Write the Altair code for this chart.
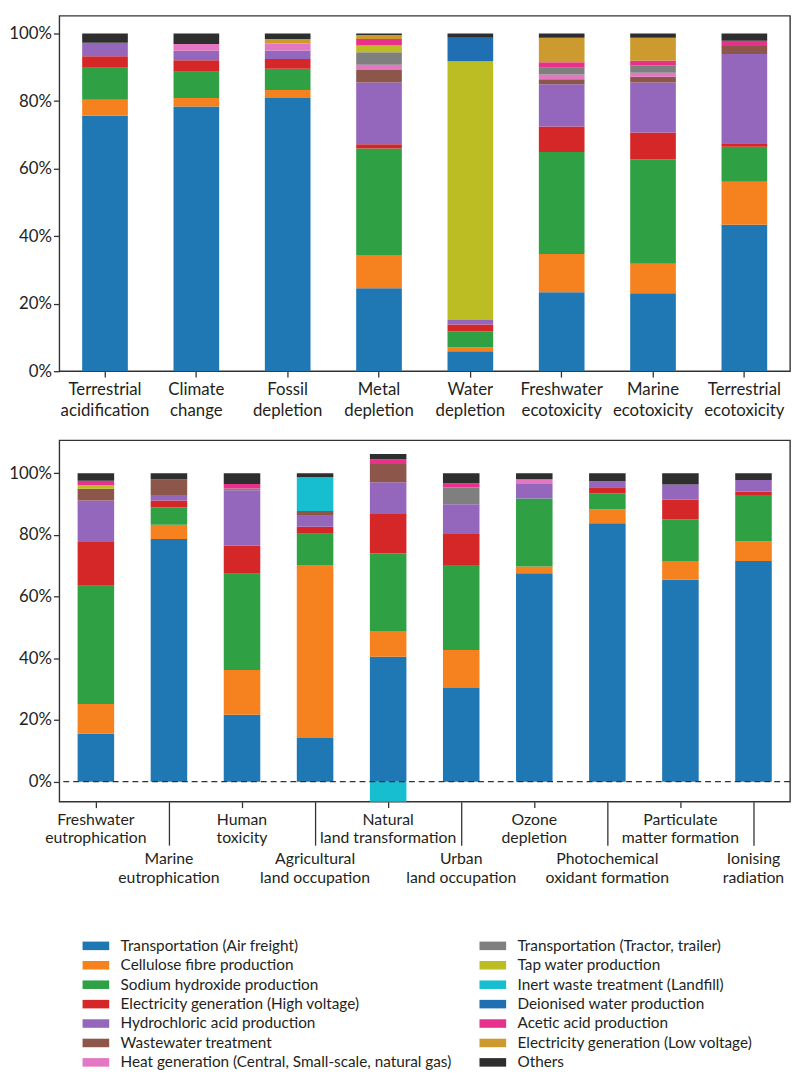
import altair as alt
import pandas as pd

FONT = "Lato"
TXT = "#231f20"

CONTRIBUTORS = [
    "Transportation (Air freight)",
    "Cellulose fibre production",
    "Sodium hydroxide production",
    "Electricity generation (High voltage)",
    "Hydrochloric acid production",
    "Wastewater treatment",
    "Heat generation (Central, Small-scale, natural gas)",
    "Transportation (Tractor, trailer)",
    "Tap water production",
    "Inert waste treatment (Landfill)",
    "Deionised water production",
    "Acetic acid production",
    "Electricity generation (Low voltage)",
    "Others",
]
COLORS = ["#1f77b4", "#f5811f", "#2fa144", "#d62728", "#9467bd", "#8c564b",
          "#e377c2", "#7f7f7f", "#bcbd22", "#17becf", "#1f6fb2", "#e8318a",
          "#cc9a2f", "#2e2e2e"]

TOP_CATS = ["Terrestrial|acidification", "Climate|change", "Fossil|depletion",
            "Metal|depletion", "Water|depletion", "Freshwater|ecotoxicity",
            "Marine|ecotoxicity", "Terrestrial|ecotoxicity"]
BOT_CATS = ["Freshwater|eutrophication", "Marine|eutrophication", "Human|toxicity",
            "Agricultural|land occupation", "Natural|land transformation",
            "Urban|land occupation", "Ozone|depletion", "Photochemical|oxidant formation",
            "Particulate|matter formation", "Ionising|radiation"]

# top panel values (%), one list per contributor
TOP_AIR = [75.7, 78.4, 80.9, 24.6, 5.9, 23.4, 23.1, 43.4]
TOP_CELL = [4.7, 2.5, 2.4, 9.8, 1.1, 11.3, 8.7, 12.7]
TOP_NAOH = [9.5, 7.8, 6.3, 31.6, 4.8, 30.2, 31.0, 10.4]
TOP_EHV = [3.4, 3.4, 2.9, 1.2, 2.0, 7.6, 7.9, 1.0]
TOP_HCL = [4.0, 2.8, 2.5, 18.3, 1.4, 12.5, 14.8, 26.5]
TOP_WW = [0, 0, 0, 3.7, 0, 1.5, 1.7, 2.3]
TOP_HEAT = [0, 2.0, 2.1, 1.6, 0, 1.4, 1.2, 0]
TOP_TRAC = [0, 0, 0, 3.7, 0, 2.0, 2.2, 0]
TOP_TAP = [0, 0, 0, 2.0, 76.6, 0, 0, 0]
TOP_INERT = [0, 0, 0, 0, 0, 0, 0, 0]
TOP_DEION = [0, 0, 0, 0, 7.0, 0, 0, 0]
TOP_ACET = [0, 0, 0, 1.9, 0, 1.6, 1.4, 1.6]
TOP_ELV = [0, 0, 1.3, 1.2, 0, 7.3, 6.8, 0]
TOP_OTH = [2.7, 3.1, 1.6, 0.4, 1.2, 1.2, 1.2, 2.1]

# bottom panel values (%)
BOT_AIR = [15.5, 78.7, 21.7, 14.2, 40.5, 30.4, 67.6, 83.8, 65.5, 71.6]
BOT_CELL = [9.7, 4.6, 14.5, 56.1, 8.4, 12.3, 2.2, 4.5, 6.1, 6.3]
BOT_NAOH = [38.3, 5.6, 31.2, 10.1, 25.2, 27.6, 22.0, 5.2, 13.5, 15.1]
BOT_EHV = [14.2, 2.3, 9.1, 2.3, 12.7, 10.0, 0, 2.0, 6.3, 1.1]
BOT_HCL = [13.5, 1.8, 18.0, 3.8, 10.3, 9.7, 5.0, 1.9, 5.0, 3.7]
BOT_WW = [3.8, 5.1, 0, 1.3, 5.9, 0, 0, 0, 0, 0]
BOT_HEAT = [0, 0, 0, 0, 0, 0, 1.3, 0, 0, 0]
BOT_TRAC = [0, 0, 0.6, 0, 0, 5.4, 0, 0, 0, 0]
BOT_TAP = [1.2, 0, 0, 0, 0, 0, 0, 0, 0, 0]
BOT_INERT = [0, 0, 0, 10.9, -6.5, 0, 0, 0, 0, 0]
BOT_DEION = [0, 0, 0, 0, 0, 0, 0, 0, 0, 0]
BOT_ACET = [1.4, 0, 1.4, 0, 1.6, 1.4, 0, 0, 0, 0]
BOT_ELV = [0, 0, 0, 0, 0, 0, 0, 0, 0, 0]
BOT_OTH = [2.4, 1.9, 3.5, 1.3, 1.7, 3.2, 1.9, 2.6, 3.6, 2.2]

TOP_SERIES = [TOP_AIR, TOP_CELL, TOP_NAOH, TOP_EHV, TOP_HCL, TOP_WW, TOP_HEAT,
              TOP_TRAC, TOP_TAP, TOP_INERT, TOP_DEION, TOP_ACET, TOP_ELV, TOP_OTH]
BOT_SERIES = [BOT_AIR, BOT_CELL, BOT_NAOH, BOT_EHV, BOT_HCL, BOT_WW, BOT_HEAT,
              BOT_TRAC, BOT_TAP, BOT_INERT, BOT_DEION, BOT_ACET, BOT_ELV, BOT_OTH]

Y_TICKS = [0, 20, 40, 60, 80, 100]
LOWER_LABELS = [c for i, c in enumerate(BOT_CATS) if i % 2 == 1]


def long_df(cats, series):
    rows = []
    for k, (name, vals) in enumerate(zip(CONTRIBUTORS, series)):
        for cat, v in zip(cats, vals):
            if v != 0:
                rows.append({"cat": cat, "src": name, "value": v, "ord": k})
    return pd.DataFrame(rows)


color_scale = alt.Scale(domain=CONTRIBUTORS, range=COLORS)


def bars(df, cats, ydom, width, height, xaxis):
    base = alt.Chart(df).mark_bar().encode(
        x=alt.X("cat:N", sort=cats, axis=xaxis,
                scale=alt.Scale(paddingInner=0.5, paddingOuter=0.25)),
        y=alt.Y("value:Q", stack="zero",
                scale=alt.Scale(domain=ydom, nice=False, zero=False),
                axis=alt.Axis(values=Y_TICKS, labelExpr="datum.value + '%'",
                              title=None, grid=False, domain=False,
                              tickSize=6, tickColor="#333", tickWidth=1.3,
                              labelFont=FONT, labelFontSize=17, labelColor=TXT,
                              labelPadding=2)),
        color=alt.Color("src:N", scale=color_scale, legend=None),
        order=alt.Order("ord:Q", sort="ascending"),
    ).properties(width=width, height=height)
    return base


top_axis = alt.Axis(title=None, labelAngle=0, domain=False, tickSize=6,
                    tickColor="#333", tickWidth=1.3,
                    labelExpr="split(datum.label, '|')",
                    labelFont=FONT, labelFontSize=17, labelColor=TXT,
                    labelLineHeight=21, labelPadding=5, labelBaseline="top")

cond_test = "indexof(" + str(LOWER_LABELS).replace('"', "'") + ", datum.value) >= 0"
bot_axis = alt.Axis(title=None, labelAngle=0, domain=False,
                    tickSize={"condition": {"test": cond_test, "value": 44}, "value": 6},
                    labelPadding={"condition": {"test": cond_test, "value": 6}, "value": 4},
                    tickColor="#333", tickWidth=1.3,
                    labelExpr="split(datum.label, '|')",
                    labelFont=FONT, labelFontSize=16, labelColor=TXT,
                    labelLineHeight=18.5, labelBaseline="top")

top_df = long_df(TOP_CATS, TOP_SERIES)
bot_df = long_df(BOT_CATS, BOT_SERIES)

top = bars(top_df, TOP_CATS, [0, 105.3], 740, 360, top_axis)

zero_df = pd.DataFrame({"y": [0]})
zero_line = alt.Chart(zero_df).mark_rule(
    color="#333", strokeDash=[6, 4], strokeWidth=1.4
).encode(y="y:Q")
bottom = alt.layer(bars(bot_df, BOT_CATS, [-6.5, 110.7], 740, 366, bot_axis),
                   zero_line).properties(width=740, height=366)

leg_df = pd.DataFrame({
    "src": CONTRIBUTORS,
    "col": [i // 7 for i in range(len(CONTRIBUTORS))],
    "row": [i % 7 for i in range(len(CONTRIBUTORS))],
})
lx = alt.X("col:Q", scale=alt.Scale(domain=[0, 1], range=[37, 439]), axis=None)
ly = alt.Y("row:Q", scale=alt.Scale(domain=[0, 6], range=[0, 118]), axis=None)
leg_sym = alt.Chart(leg_df).mark_point(
    shape="M-1,-0.32L1,-0.32L1,0.32L-1,0.32Z", filled=True, opacity=1,
    size=729, strokeWidth=0
).encode(x=lx, y=ly, color=alt.Color("src:N", scale=color_scale, legend=None))
leg_txt = alt.Chart(leg_df).mark_text(
    align="left", baseline="middle", dx=25, font=FONT, fontSize=15.5, color=TXT
).encode(x=lx, y=ly, text="src:N")
legend = alt.layer(leg_sym, leg_txt).properties(
    width=740, height=118, view=alt.ViewBackground(stroke="transparent"))

chart = alt.vconcat(
    alt.vconcat(top, bottom, spacing=20),
    legend, spacing=52
).configure_view(stroke="#333", strokeWidth=1.4).properties(padding=0)

chart.save("out.html", embed_options={"renderer": "svg", "actions": False})
